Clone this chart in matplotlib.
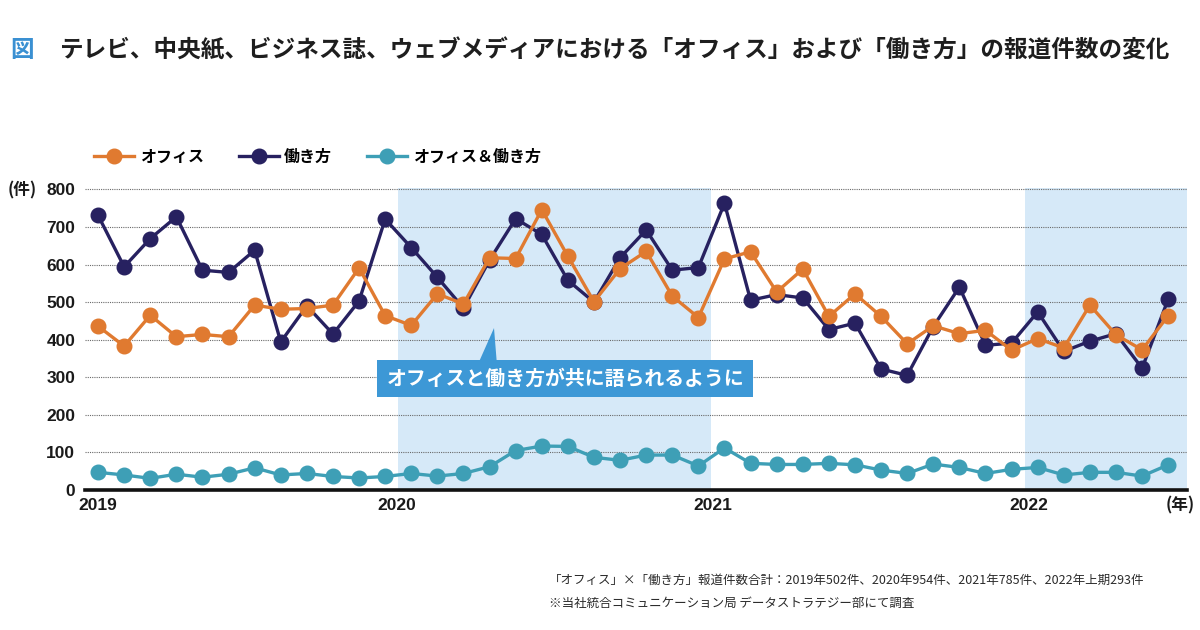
import numpy as np
import pandas as pd
import matplotlib
matplotlib.use("Agg")
import matplotlib.pyplot as plt
from matplotlib.patches import Rectangle, Polygon

plt.rcParams['font.family'] = ['Noto Sans CJK JP', 'DejaVu Sans']

# ---- data ----
months = [p.strftime('%Y-%m') for p in pd.period_range('2019-01', '2022-06', freq='M')]
office = [436, 383, 465, 408, 414, 408, 492, 481, 483, 492, 591, 464,
          438, 522, 495, 618, 616, 746, 622, 501, 589, 635, 516, 459,
          615, 634, 527, 588, 462, 522, 462, 389, 437, 416, 425, 372,
          403, 378, 492, 413, 373, 464]
work = [731, 594, 669, 727, 585, 579, 638, 394, 490, 415, 503, 721,
        645, 566, 484, 612, 722, 680, 558, 500, 618, 692, 585, 592,
        763, 505, 520, 511, 427, 444, 322, 305, 435, 540, 385, 391,
        474, 369, 396, 416, 324, 508]
both = [47, 40, 31, 42, 34, 42, 59, 40, 44, 36, 32, 36,
        44, 37, 44, 62, 105, 117, 116, 87, 79, 93, 93, 64,
        112, 71, 68, 68, 71, 67, 53, 44, 69, 60, 44, 55,
        60, 40, 47, 47, 37, 67]
series_names = ['オフィス', '働き方', 'オフィス＆働き方']
year_labels = ['2019', '2020', '2021', '2022']
y_ticks = [0, 100, 200, 300, 400, 500, 600, 700, 800]

# ---- styles ----
C_OFFICE = '#e07a30'
C_WORK = '#272160'
C_BOTH = '#3e9fb6'
C_SHADE = '#d6e9f8'
C_CALLOUT = '#3d98d6'
C_TITLE_MARK = '#3a90d2'

x = np.arange(len(months))

fig = plt.figure(figsize=(12, 6.3), dpi=100)
ax = fig.add_axes([85 / 1200, 140 / 630, 1102 / 1200, 302.5 / 630])
ax.set_xlim(-0.5, 41.72)
ax.set_ylim(0, 805)

# shaded periods (2020 and 2022)
ax.axvspan(11.5, 23.5, color=C_SHADE, zorder=0, lw=0)
ax.axvspan(35.5, 41.72, color=C_SHADE, zorder=0, lw=0)

ax.set_yticks(y_ticks)
ax.yaxis.grid(True, linestyle=(0, (1, 1)), color='#6a6a6a', linewidth=0.8, zorder=1)
ax.set_axisbelow(True)

for s in ['top', 'left', 'right']:
    ax.spines[s].set_visible(False)
ax.spines['bottom'].set_linewidth(2.6)
ax.spines['bottom'].set_color('#111111')
ax.spines['bottom'].set_zorder(5)

lw, ms = 2.4, 10.5
l_work, = ax.plot(x, work, color=C_WORK, lw=lw, marker='o', ms=ms, zorder=3, clip_on=False)
l_office, = ax.plot(x, office, color=C_OFFICE, lw=lw, marker='o', ms=ms, zorder=4, clip_on=False)
l_both, = ax.plot(x, both, color=C_BOTH, lw=lw, marker='o', ms=ms, zorder=4, clip_on=False)

ax.set_xticks([0, 11.45, 23.55, 35.65])
ax.set_xticklabels(year_labels)
ax.tick_params(axis='both', length=0, labelsize=12.5, colors='#1a1a1a')
ax.tick_params(axis='x', pad=6)
ax.tick_params(axis='y', pad=7)
for lab in ax.get_xticklabels() + ax.get_yticklabels():
    lab.set_family(['Liberation Sans', 'DejaVu Sans'])
    lab.set_weight('bold')

# unit labels
fig.text(8 / 1200, 1 - 190 / 630, '(件)', fontsize=12, fontweight='bold', color='#1a1a1a',
         va='center', ha='left')
fig.text(1195 / 1200, 1 - 505 / 630, '(年)', fontsize=12, fontweight='bold', color='#1a1a1a',
         va='center', ha='right')

# callout
ax.add_patch(Rectangle((10.7, 247), 25.1 - 10.7, 346 - 247, facecolor=C_CALLOUT,
                       edgecolor='none', zorder=6))
ax.add_patch(Polygon([[15.17, 431], [14.62, 345], [15.27, 345]], closed=True,
                     facecolor=C_CALLOUT, edgecolor='none', zorder=6))
ax.text((10.7 + 25.1) / 2, 296, 'オフィスと働き方が共に語られるように', color='white',
        fontsize=14.3, fontweight='bold', ha='center', va='center', zorder=7)

# title
fig.text(10 / 1200, 1 - 50 / 630, '図', fontsize=17, fontweight='bold', color=C_TITLE_MARK,
         va='center', ha='left')
fig.text(60 / 1200, 1 - 50 / 630,
         'テレビ、中央紙、ビジネス誌、ウェブメディアにおける「オフィス」および「働き方」の報道件数の変化',
         fontsize=17, fontweight='bold', color='#1e1e1e', va='center', ha='left')

# legend
fig.legend(handles=[l_office, l_work, l_both], labels=series_names,
           loc='center left', bbox_to_anchor=(94 / 1200, 1 - 157 / 630),
           ncol=3, frameon=False, handlelength=2.5, handletextpad=0.35,
           columnspacing=2.2, borderpad=0, borderaxespad=0,
           prop={'family': ['Noto Sans CJK JP', 'DejaVu Sans'], 'size': 11.5, 'weight': 'bold'})

# footnotes
fig.text(549 / 1200, 1 - 580 / 630,
         '「オフィス」×「働き方」報道件数合計：2019年502件、2020年954件、2021年785件、2022年上期293件',
         fontsize=9, color='#2a2a2a', va='center', ha='left')
fig.text(549 / 1200, 1 - 603 / 630,
         '※当社統合コミュニケーション局 データストラテジー部にて調査',
         fontsize=9, color='#2a2a2a', va='center', ha='left')

fig.savefig('out.png', dpi=100, facecolor='white')
